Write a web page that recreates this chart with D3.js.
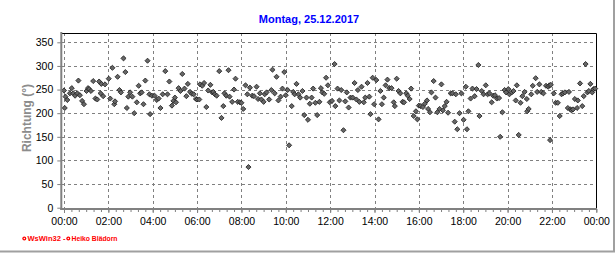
<!DOCTYPE html>
<html lang="de">
<head>
<meta charset="UTF-8">
<title>Richtung 25.12.2017</title>
<script src="https://d3js.org/d3.v7.min.js"></script>
<style>
  body { margin: 0; background: #fff; }
  svg { display: block; }
  text { font-family: "Liberation Sans", Arial, sans-serif; }
</style>
</head>
<body>
<script>
// wind direction every ~5 min, minutes since midnight + degrees
const nightTimes = [0,2,4,9,16,21,25,30,36,39,43,49,54,61,65,68,73,79,85,90,95,99,101,106,111,121,125,131,136,138,145,150,154,161,166,170,174,179,185,190,197,202,206,210,215,220,226,231,233,238,245,251,256,261,267,274,280,285,292,296,300,303,310,315,320,326,331,335,341,346,351,357,360,366,368,374,379,385,390,396,401,404,408,413,420,426,431,434,439,445,448,455,460,464,470,476]
const nightDirs = [248,211,235,228,242,253,242,237,242,269,238,226,219,247,253,251,247,268,231,229,267,242,262,236,261,273,231,296,219,225,277,249,244,316,287,211,235,244,235,200,223,258,242,244,219,269,311,240,198,237,237,228,231,211,240,289,240,267,216,226,233,223,253,247,283,252,236,262,245,241,240,230,229,229,261,258,264,213,248,260,244,245,240,237,289,190,215,242,237,291,235,224,250,273,224,223]

const dayTimes = [480,485,491,496,499,503,509,514,521,525,530,534,540,543,548,555,561,564,570,575,580,586,591,596,600,605,609,616,620,624,629,634,639,645,650,656,660,665,670,674,680,685,691,695,699,704,709,714,719,725,732,734,740,745,750,756,761,765,770,775,781,786,791,795,799,805,811,815,821,826,829,835,839,845,851,856,860,865,870,875,880,886,892,895,900,905,910,916,920,926,930,935,939,946,952,956,960]
const dayDirs = [222,209,259,240,86,254,237,236,256,230,242,229,224,240,244,229,249,292,242,277,227,235,252,287,238,249,132,215,245,240,262,240,233,247,196,233,186,220,233,252,222,196,224,253,244,241,275,259,223,226,304,215,252,227,249,164,225,244,212,233,233,264,229,249,224,256,223,233,264,235,198,275,219,270,187,247,219,233,259,271,253,253,223,215,273,247,242,224,223,242,237,230,252,194,204,187,216]

const eveTimes = [965,971,976,982,985,990,994,1000,1005,1010,1016,1021,1025,1030,1035,1039,1046,1051,1057,1060,1064,1070,1075,1081,1087,1090,1094,1100,1105,1111,1116,1121,1124,1130,1135,1141,1146,1151,1157,1161,1166,1171,1177,1180,1186,1192,1196,1202,1205,1211,1216,1222,1225,1230,1235,1240,1246,1252,1253,1257,1264,1268,1276,1280,1286,1291,1297,1304,1310,1313,1315,1317,1325,1330,1336,1341,1346,1350,1355,1363,1366,1370,1373,1377,1382,1388,1390,1396,1402,1406,1411,1416,1420,1424,1429,1432,1437]
const eveDirs = [215,213,220,227,209,202,244,268,233,202,209,261,206,215,224,201,242,242,182,240,166,200,242,186,256,166,204,231,252,236,251,302,194,247,240,259,240,242,223,237,238,231,232,150,202,249,244,251,240,244,247,227,259,154,222,236,245,230,204,209,240,258,274,245,261,245,242,258,256,259,143,260,242,222,222,194,240,242,244,211,245,208,206,208,230,211,227,263,215,236,304,244,247,262,244,251,252]

const xTicks = [0,120,240,360,480,600,720,840,960,1080,1200,1320,1440]
const yTicks = [0,50,100,150,200,250,300,350]
const title = "Montag, 25.12.2017"
const yTitle = "Richtung (°)"

const width = 616
const height = 253

const points = []
;[[nightTimes, nightDirs], [dayTimes, dayDirs], [eveTimes, eveDirs]].forEach(([t, v]) => {
    t.forEach((m, i) => points.push({t: m, v: v[i]}))
})

const x = d3.scaleLinear().domain([0, 1440]).range([64, 596.3])
const y = d3.scaleLinear().domain([0, 350]).range([207.7, 42.3])

const plotL = 61.3, plotR = 597, plotT = 33, plotB = 209

let svg = d3.select('body').append('svg')
    .attr('width', width)
    .attr('height', height)

// outer panel edge
svg.append('line').attr('x1', 614).attr('x2', 614).attr('y1', 0).attr('y2', 252)
    .attr('stroke', '#a0a0a0').attr('stroke-width', 2)
svg.append('line').attr('x1', 0).attr('x2', 615).attr('y1', 251.5).attr('y2', 251.5)
    .attr('stroke', '#a0a0a0').attr('stroke-width', 2)

svg.append('text')
    .attr('x', 309).attr('y', 22.5)
    .attr('text-anchor', 'middle')
    .attr('font-size', '11px').attr('font-weight', 'bold')
    .attr('fill', '#0000ff')
    .text(title)

// grid
const grid = svg.append('g').attr('stroke', '#808080').attr('stroke-dasharray', '3,3').attr('stroke-width', 1)
grid.selectAll('.hg').data(yTicks.filter(d => d > 0)).enter().append('line')
    .attr('x1', 62).attr('x2', plotR)
    .attr('y1', d => Math.round(y(d)) + 0.5).attr('y2', d => Math.round(y(d)) + 0.5)
grid.selectAll('.vg').data(xTicks.filter(d => d < 1440)).enter().append('line')
    .attr('x1', d => Math.round(x(d)) + 0.5).attr('x2', d => Math.round(x(d)) + 0.5)
    .attr('y1', plotT).attr('y2', plotB)

// frame top/right
svg.append('path')
    .attr('d', `M${plotL},${plotT + 0.5}H${plotR - 0.5}V${plotB}`)
    .attr('fill', 'none').attr('stroke', '#000').attr('stroke-width', 1)

// points
const diamond = d3.symbol().type(d3.symbolSquare).size(13)
svg.append('g').selectAll('path').data(points).enter().append('path')
    .attr('d', diamond)
    .attr('transform', d => `translate(${x(d.t)},${y(d.v)}) rotate(45)`)
    .attr('fill', '#666')
    .attr('stroke', '#222')
    .attr('stroke-width', 0.8)

// y axis
const yAxis = svg.append('g')
    .attr('transform', `translate(${plotL},0)`)
    .call(d3.axisLeft(y).tickValues(yTicks).tickSize(4).tickSizeOuter(0).tickPadding(4))
yAxis.select('.domain').remove()
yAxis.selectAll('line').attr('stroke', '#808080')
yAxis.selectAll('text').attr('font-size', '10.5px').attr('fill', '#000')

// x axis
const fmt = m => d3.format('02')(Math.floor(m / 60) % 24) + ':' + d3.format('02')(m % 60)
const xMinor = svg.append('g')
    .attr('transform', `translate(0,${plotB})`)
    .call(d3.axisBottom(x).tickValues(d3.range(0, 1441, 20)).tickSize(3).tickSizeOuter(0).tickFormat(''))
xMinor.select('.domain').remove()
xMinor.selectAll('line').attr('stroke', '#808080')

const xAxis = svg.append('g')
    .attr('transform', `translate(0,${plotB})`)
    .call(d3.axisBottom(x).tickValues(xTicks).tickSize(4).tickSizeOuter(0).tickPadding(5).tickFormat(fmt))
xAxis.select('.domain').remove()
xAxis.selectAll('line').attr('stroke', '#808080')
xAxis.selectAll('text').attr('font-size', '10.5px').attr('fill', '#000')

// thick gray axis lines
svg.append('line').attr('x1', plotL).attr('x2', plotL).attr('y1', 32).attr('y2', plotB + 1)
    .attr('stroke', '#808080').attr('stroke-width', 2)
svg.append('line').attr('x1', plotL - 1).attr('x2', plotR).attr('y1', plotB).attr('y2', plotB)
    .attr('stroke', '#808080').attr('stroke-width', 2)

svg.append('text')
    .attr('transform', 'translate(31,118) rotate(-90)')
    .attr('text-anchor', 'middle')
    .attr('font-size', '12px').attr('font-weight', 'bold')
    .attr('fill', '#8c8c8c')
    .text(yTitle)

// credits
const credits = [{x: 22.5, label: 'WsWin32  -'}, {x: 66.5, label: 'Heiko Blädorn'}]
const cr = svg.append('g').selectAll('g').data(credits).enter().append('g')
cr.append('circle').attr('cx', d => d.x + 1.8).attr('cy', 238.5).attr('r', 2)
    .attr('fill', '#ff0000')
cr.append('circle').attr('cx', d => d.x + 1.8).attr('cy', 238.5).attr('r', 0.7)
    .attr('fill', '#fff')
cr.append('text')
    .attr('x', d => d.x + 5)
    .attr('y', 241)
    .attr('font-size', '7px').attr('font-weight', 'bold')
    .attr('fill', '#ff0000')
    .attr('textLength', d => d.label.startsWith('Ws') ? 38 : 46)
    .attr('lengthAdjust', 'spacingAndGlyphs')
    .text(d => d.label)
</script>
</body>
</html>
